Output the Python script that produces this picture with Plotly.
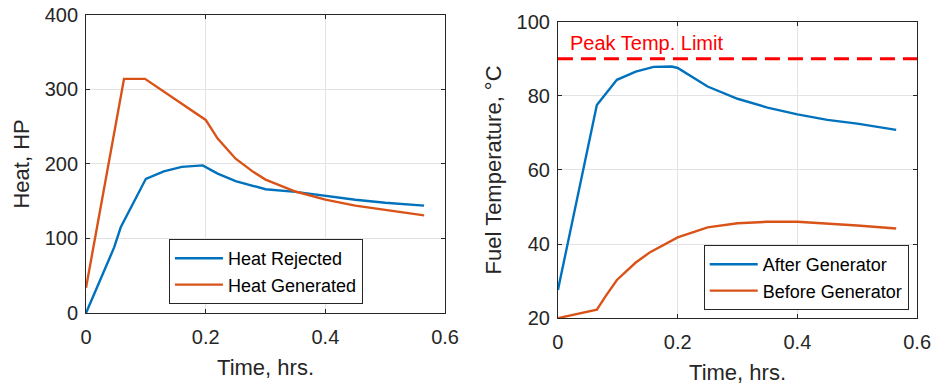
import plotly.graph_objects as go

# ---- data ----
t_rej = [0, 0.047, 0.058, 0.1, 0.13, 0.16, 0.195, 0.22, 0.25, 0.3, 0.35, 0.4, 0.45, 0.5, 0.565]
heat_rejected = [0, 88, 115, 180, 190, 196, 198, 187, 177, 166, 162.5, 157, 152, 148, 144]

t_gen = [0, 0.0635, 0.0986, 0.16, 0.2, 0.22, 0.25, 0.28, 0.3, 0.35, 0.4, 0.45, 0.5, 0.565]
heat_generated = [34, 314, 314, 281, 259, 234, 207, 189, 179, 163, 152, 144, 138, 131]

t_after = [0, 0.057, 0.065, 0.0985, 0.13, 0.16, 0.19, 0.2, 0.22, 0.25, 0.3, 0.35, 0.4, 0.45, 0.5, 0.565]
temp_after = [27.6, 70.8, 77.5, 84.3, 86.5, 87.8, 87.9, 87.5, 85.5, 82.5, 79.2, 76.8, 75, 73.5, 72.5, 70.8]

t_before = [0, 0.065, 0.08, 0.0985, 0.13, 0.154, 0.2, 0.25, 0.3, 0.35, 0.4, 0.45, 0.5, 0.565]
temp_before = [20, 22.3, 26, 30.3, 35, 37.8, 41.8, 44.5, 45.6, 46, 46, 45.6, 45, 44.2]

peak_limit = 90
limit_x = [0, 0.6]

x_ticks = [0, 0.2, 0.4, 0.6]
heat_ticks = [0, 100, 200, 300, 400]
temp_ticks = [20, 40, 60, 80, 100]

BLUE = "#0072BD"
ORANGE = "#D95319"
DARK = "#262626"
FONT = "Liberation Sans, Arial, sans-serif"
LW = 2.4

fig = go.Figure()
fig.add_trace(go.Scatter(x=t_rej, y=heat_rejected, mode="lines", name="Heat Rejected",
                         line=dict(color=BLUE, width=LW), xaxis="x", yaxis="y", legend="legend"))
fig.add_trace(go.Scatter(x=t_gen, y=heat_generated, mode="lines", name="Heat Generated",
                         line=dict(color=ORANGE, width=LW), xaxis="x", yaxis="y", legend="legend"))
fig.add_trace(go.Scatter(x=t_after, y=temp_after, mode="lines", name="After Generator",
                         line=dict(color=BLUE, width=LW), xaxis="x2", yaxis="y2", legend="legend2"))
fig.add_trace(go.Scatter(x=t_before, y=temp_before, mode="lines", name="Before Generator",
                         line=dict(color=ORANGE, width=LW), xaxis="x2", yaxis="y2", legend="legend2"))
fig.add_trace(go.Scatter(x=limit_x, y=[peak_limit, peak_limit], mode="lines", showlegend=False,
                         line=dict(color="#FF0000", width=3, dash="15px,8px"), xaxis="x2", yaxis="y2",
                         cliponaxis=False))

axis_common = dict(showline=True, linecolor=DARK, linewidth=1, mirror="allticks",
                   ticks="inside", ticklen=4, tickcolor=DARK, showgrid=True,
                   gridcolor="#E3E3E3", gridwidth=1, zeroline=False, automargin=False,
                   tickfont=dict(size=20, color=DARK, family=FONT))

legend_common = dict(xanchor="right", yanchor="bottom", bgcolor="white",
                     bordercolor=DARK, borderwidth=1, itemwidth=48,
                     font=dict(size=18, color="black", family=FONT), tracegroupgap=0)

fig.update_layout(
    width=933, height=387,
    margin=dict(l=0, r=0, t=0, b=0),
    paper_bgcolor="white", plot_bgcolor="white",
    font=dict(family=FONT, color=DARK),
    xaxis=dict(domain=[0.0922, 0.477], range=[0, 0.6], tickvals=x_ticks,
               ticktext=["0", "0.2", "0.4", "0.6"], anchor="y", ticklabelstandoff=6,
               title=dict(text="Time, hrs.", font=dict(size=22, color=DARK), standoff=12),
               **axis_common),
    yaxis=dict(domain=[0.191, 0.962], range=[0, 400], tickvals=heat_ticks, anchor="x",
               ticklabelstandoff=3,
               title=dict(text="Heat, HP", font=dict(size=22, color=DARK), standoff=8),
               **axis_common),
    xaxis2=dict(domain=[0.598, 0.983], range=[0, 0.6], tickvals=x_ticks,
                ticktext=["0", "0.2", "0.4", "0.6"], anchor="y2", ticklabelstandoff=6,
                title=dict(text="Time, hrs.", font=dict(size=22, color=DARK), standoff=12),
                **axis_common),
    yaxis2=dict(domain=[0.178, 0.944], range=[20, 100], tickvals=temp_ticks, anchor="x2",
                ticklabelstandoff=3,
                title=dict(text="Fuel Temperature, °C", font=dict(size=22, color=DARK), standoff=8),
                **axis_common),
    legend=dict(x=0.389, y=0.2145, **legend_common),
    legend2=dict(x=0.974, y=0.199, **legend_common),
    annotations=[dict(x=0.017, y=94.3, xref="x2", yref="y2", text="Peak Temp. Limit",
                      showarrow=False, xanchor="left", yanchor="middle",
                      font=dict(size=20, color="#FF0000", family=FONT))],
)

fig.write_html("out.html")
